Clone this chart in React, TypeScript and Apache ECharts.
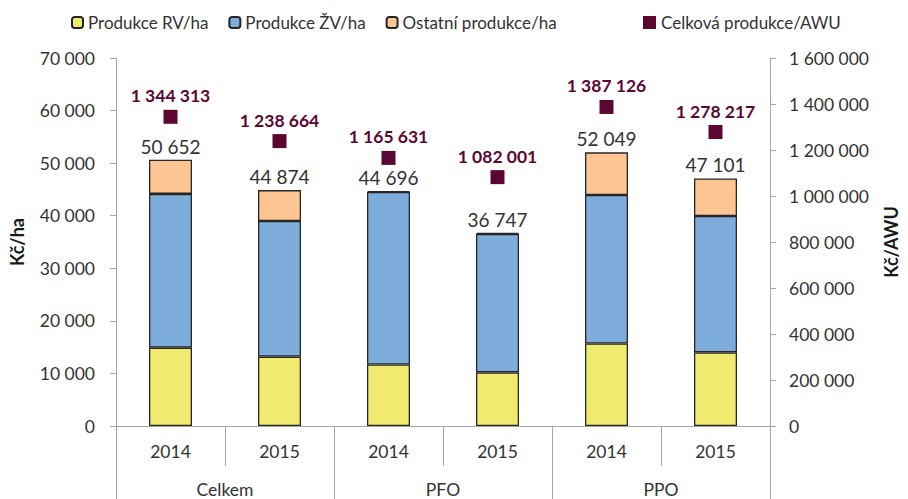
import React, { useEffect, useRef } from "react";
import * as echarts from "echarts";

const years = ["2014", "2015", "2014", "2015", "2014", "2015"];
const groups = ["Celkem", "PFO", "PPO"];
const rvPerHa = [14900, 13200, 11700, 10200, 15700, 14000];
const zvPerHa = [29250, 25800, 32800, 26350, 28250, 25950];
const otherPerHa = [6502, 5874, 196, 197, 8099, 7151];
const totalPerHa = [50652, 44874, 44696, 36747, 52049, 47101];
const perAwu = [1344313, 1238664, 1165631, 1082001, 1387126, 1278217];
const seriesNames = ["Produkce RV/ha", "Produkce ŽV/ha", "Ostatní produkce/ha", "Celková produkce/AWU"];

const fmt = (n: number) => String(Math.round(n)).replace(/\B(?=(\d{3})+(?!\d))/g, " ");

const FONT = "Lato, 'Open Sans', sans-serif";
const AXIS_GRAY = "#A6A6A6";
const TEXT = "#333333";
const MAROON = "#5C0632";
const TICK_FS = 17.5;

export default function App() {
  const ref = useRef<HTMLDivElement>(null);
  useEffect(() => {
    document.body.style.margin = "0";
    if (!ref.current) return;
    const chart = echarts.init(ref.current, null, { renderer: "svg" });
    const barBase = {
      type: "bar" as const,
      stack: "ha",
      barWidth: 43,
      xAxisIndex: 0,
      yAxisIndex: 0,
    };
    const border = { borderColor: "#262626", borderWidth: 1.3 };
    chart.setOption({
      animation: false,
      textStyle: { fontFamily: FONT },
      grid: { left: 112, right: 128, top: 58, bottom: 73, containLabel: false },
      legend: [
        {
          data: seriesNames.slice(0, 3),
          left: 66,
          top: 9,
          itemWidth: 11,
          itemHeight: 11,
          itemGap: 20,
          textStyle: { fontSize: 17, color: TEXT, fontFamily: FONT },
        },
        {
          data: [seriesNames[3]],
          left: 638,
          top: 9,
          itemWidth: 13,
          itemHeight: 13,
          textStyle: { fontSize: 17, color: TEXT, fontFamily: FONT },
        },
      ],
      xAxis: [
        {
          type: "category",
          data: years,
          position: "bottom",
          axisLine: { show: true, lineStyle: { color: AXIS_GRAY, width: 1 } },
          axisTick: { show: true, interval: 0, length: 40, lineStyle: { color: AXIS_GRAY } },
          axisLabel: { margin: 16, fontSize: TICK_FS, color: TEXT, fontFamily: FONT },
        },
        {
          type: "category",
          data: groups,
          position: "bottom",
          axisLine: { show: false },
          axisTick: { show: true, interval: 0, length: 80, lineStyle: { color: AXIS_GRAY } },
          axisLabel: { margin: 54, fontSize: TICK_FS, color: TEXT, fontFamily: FONT },
        },
      ],
      yAxis: [
        {
          type: "value",
          min: 0,
          max: 70000,
          interval: 10000,
          name: "Kč/ha",
          nameLocation: "middle",
          nameGap: 90,
          nameRotate: 90,
          nameTextStyle: { fontSize: 18, fontWeight: "bold", color: "#1a1a1a", fontFamily: FONT },
          axisLine: { show: true, lineStyle: { color: AXIS_GRAY } },
          axisTick: { show: true, length: 6, lineStyle: { color: AXIS_GRAY } },
          axisLabel: { margin: 21, fontSize: TICK_FS, color: TEXT, fontFamily: FONT, formatter: (v: number) => fmt(v) },
          splitLine: { show: false },
        },
        {
          type: "value",
          min: 0,
          max: 1600000,
          interval: 200000,
          position: "right",
          name: "Kč/AWU",
          nameLocation: "middle",
          nameGap: 112,
          nameRotate: 90,
          nameTextStyle: { fontSize: 18, fontWeight: "bold", color: "#1a1a1a", fontFamily: FONT },
          axisLine: { show: true, lineStyle: { color: AXIS_GRAY } },
          axisTick: { show: true, length: 6, lineStyle: { color: AXIS_GRAY } },
          axisLabel: { margin: 19, fontSize: TICK_FS, color: TEXT, fontFamily: FONT, formatter: (v: number) => fmt(v) },
          splitLine: { show: false },
        },
      ],
      series: [
        { ...barBase, name: seriesNames[0], data: rvPerHa, itemStyle: { color: "#F0EB6E", ...border } },
        { ...barBase, name: seriesNames[1], data: zvPerHa, itemStyle: { color: "#7EADDC", ...border } },
        {
          ...barBase,
          name: seriesNames[2],
          data: otherPerHa,
          itemStyle: { color: "#FCC591", ...border },
          label: {
            show: true,
            position: "top",
            distance: 4,
            fontSize: 19,
            color: TEXT,
            fontFamily: FONT,
            formatter: (p: any) => fmt(totalPerHa[p.dataIndex]),
          },
        },
        {
          type: "scatter",
          name: seriesNames[3],
          xAxisIndex: 0,
          yAxisIndex: 1,
          data: perAwu,
          symbol: "rect",
          symbolSize: 14,
          itemStyle: { color: MAROON, opacity: 1 },
          label: {
            show: true,
            position: "top",
            distance: 5,
            fontSize: 17.5,
            fontWeight: "bold",
            color: MAROON,
            fontFamily: FONT,
            formatter: (p: any) => fmt(perAwu[p.dataIndex]),
          },
        },
      ],
    });
    return () => chart.dispose();
  }, []);
  return <div ref={ref} style={{ width: 908, height: 499 }} />;
}
